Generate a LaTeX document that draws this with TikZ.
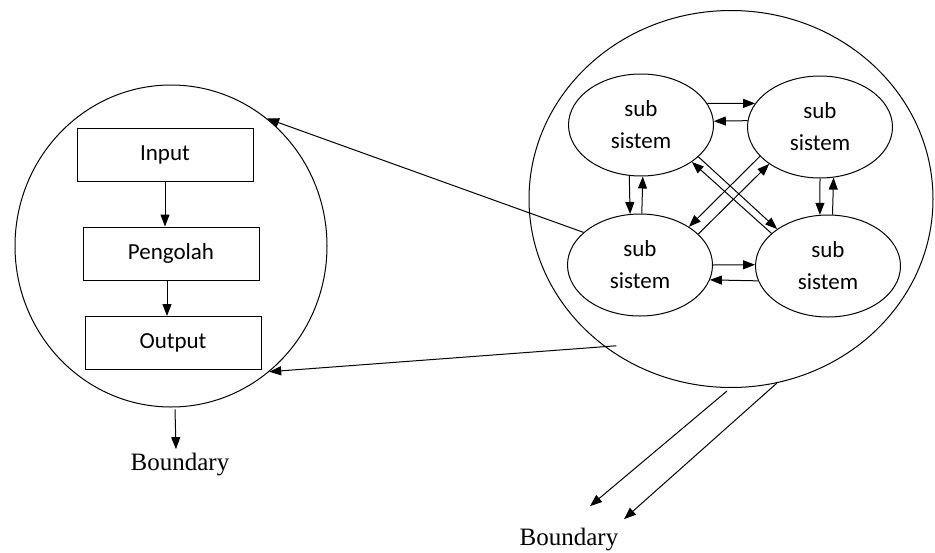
\documentclass[tikz,border=0pt]{standalone}
\usepackage{fontspec}
\usepackage{tikz}
\usetikzlibrary{shapes.geometric,arrows.meta,calc}
\newfontfamily\boxfont{Carlito}
\newfontfamily\bndfont{Liberation Serif}

\begin{document}
\begin{tikzpicture}[x=1pt,y=-1pt,line width=1pt,
    box/.style={draw,minimum width=176pt,minimum height=53pt,inner sep=0pt,
      font=\boxfont\fontsize{23}{32}\selectfont},
    sub/.style={draw,ellipse,minimum width=145pt,minimum height=102pt,inner sep=0pt,
      align=center,font=\boxfont\fontsize{23}{32}\selectfont},
    arr/.style={-{Triangle[length=12pt,width=9pt]}},
    lbl/.style={inner sep=0pt,font=\bndfont\fontsize{25}{30}\selectfont}]
          \useasboundingbox (0,0) rectangle (935,552);

          \node[draw,ellipse,minimum width=312pt,minimum height=322pt] (sysL) at (171,246) {};
          \node[draw,ellipse,minimum width=404pt,minimum height=377pt] (sysR) at (731,199) {};

          \node[box] (in) at (165,154.5) {Input};
          \node[box] (proc) at (171,253.5) {Pengolah};
          \node[box] (out) at (173,343) {Output};
          \draw[arr] (in.south) -- (in.south |- proc.north);
          \draw[arr] ([xshift=-4pt]proc.south) -- ([xshift=-4pt]proc.south |- out.north);

          \foreach \n/\x/\y in {TL/641/125,TR/820/127,BL/640/265,BR/828/266} {
            \node[sub] (s\n) at (\x,\y) {sub\\sistem};
          }

          \foreach \p/\a/\q/\b in {TL/18/TR/160, TR/175/TL/3, TL/257/BL/101, BL/88/TL/272,
              TR/270/BR/99, BR/85/TR/285, BL/0/BR/179, BR/192/BL/348,
              TL/331/BR/144, BR/150/TL/324, TR/206/BL/38, BL/28/TR/216} {
            \draw[arr] (s\p.\a) -- (s\q.\b);
          }

          \draw[arr] (sBL.150) -- (sysL.53);
          \draw[arr] ([xshift=13pt]sysR.229) -- (sysL.308);

          \node[lbl,anchor=base] (bL) at (180,470) {Boundary};
          \node[lbl,anchor=base] (bR) at (569,545) {Boundary};
          \draw[arr] ([xshift=4pt,yshift=-2pt]sysL.south) -- ([xshift=-4pt,yshift=3pt]bL.north);
          \draw[arr] ([xshift=-4pt,yshift=-3pt]sysR.south) -- ($(bR.north)+(21,-21)$);
          \draw[arr] (sysR.284) -- ($(bR.north)+(55,-8)$);
        \end{tikzpicture}
\end{document}
